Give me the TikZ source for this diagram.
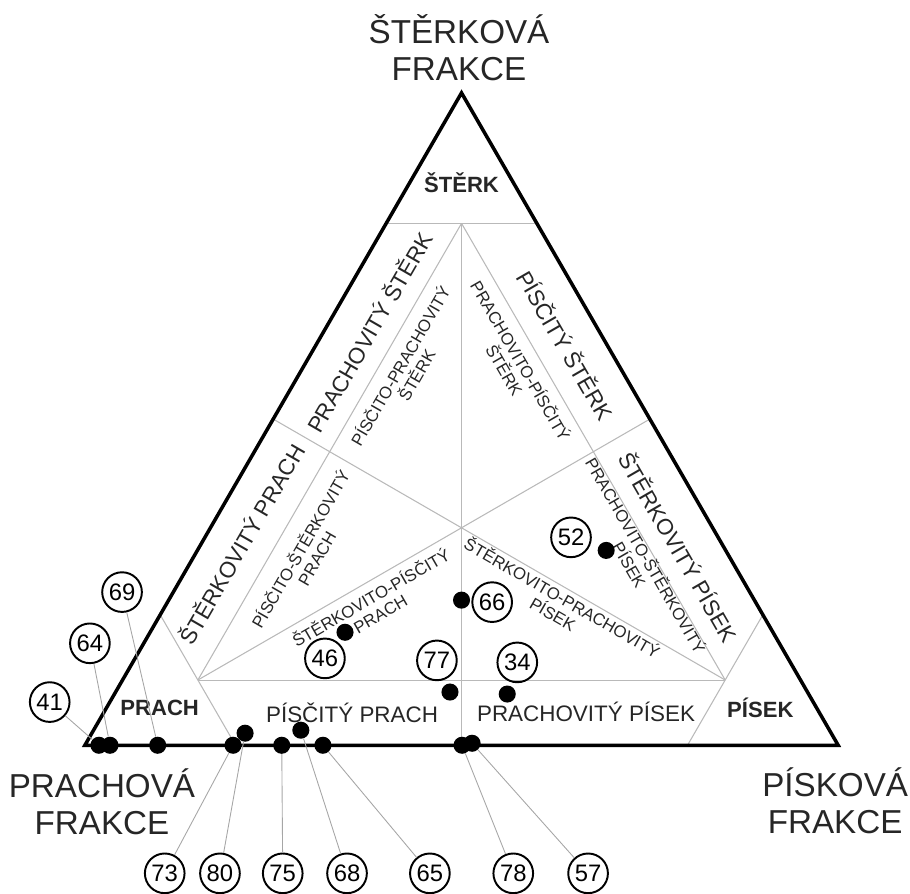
\documentclass[tikz,border=0pt]{standalone}
\usepackage{fontspec}
\setmainfont{Liberation Sans}
\usepackage{tikz}

\begin{document}
\begin{tikzpicture}[
  region/.style={font=\fontsize{12.7}{14}\selectfont, text=black!85},
  small/.style={font=\fontsize{9.5}{10.6}\selectfont, text=black!85, align=center},
  corner/.style={font=\fontsize{12.5}{14}\selectfont\bfseries, text=black!85},
  fraction/.style={font=\fontsize{18.8}{21}\selectfont, text=black!85, align=center},
  num/.style={draw, circle, line width=1.1pt, inner sep=0pt, minimum size=0.79cm, font=\fontsize{13.5}{14}\selectfont},
  dot/.style={circle, fill=black, inner sep=0pt, minimum size=0.34cm},
  lead/.style={gray!70, line width=0.5pt},
  split/.style={gray!55, line width=0.6pt}
]
\useasboundingbox (-1.69,-2.95) rectangle (16.43,14.84);

\coordinate (A) at (0,0);
\coordinate (B) at (15,0);
\coordinate (C) at (7.5,12.99);
\coordinate (T) at (7.5,10.392);
\coordinate (L) at (2.25,1.299);
\coordinate (R) at (12.75,1.299);
\coordinate (M) at (7.5,4.33);

\draw[split] (6,10.392) -- (9,10.392);
\draw[split] (T) -- (L);
\draw[split] (T) -- (R);
\draw[split] (T) -- (7.5,0);
\draw[split] (L) -- (R);
\draw[split] (M) -- (L);
\draw[split] (M) -- (R);
\draw[split] (3.75,6.495) -- (M) -- (11.25,6.495);
\draw[split] (1.5,2.598) -- (3,0);
\draw[split] (13.5,2.598) -- (12,0);

\draw[line width=2pt, line join=miter] (A) -- (B) -- (C) -- cycle;

\node[fraction] (gravel) at (7.45,13.9) {ŠTĚRKOVÁ\\FRAKCE};
\node[fraction] (silt) at (0.34,-1.12) {PRACHOVÁ\\FRAKCE};
\node[fraction] (sand) at (14.94,-1.10) {PÍSKOVÁ\\FRAKCE};

\node[corner] (sterk) at (7.5,11.2) {ŠTĚRK};
\node[corner] (prach) at (1.49,0.74) {PRACH};
\node[corner] (pisek) at (13.45,0.74) {PÍSEK};

\node[region, rotate=60] (prsterk) at (5.65,8.23) {PRACHOVITÝ ŠTĚRK};
\node[region, rotate=-60] (pisterk) at (9.58,7.97) {PÍSČITÝ ŠTĚRK};
\node[region, rotate=60] (stprach) at (3.11,4.02) {ŠTĚRKOVITÝ PRACH};
\node[region, rotate=-60] (stpisek) at (11.83,3.96) {ŠTĚRKOVITÝ PÍSEK};
\node[region] (piprach) at (5.32,0.64) {PÍSČITÝ PRACH};
\node[region] (prpisek) at (9.98,0.66) {PRACHOVITÝ PÍSEK};

\node[small, rotate=60] (piprsterk) at (6.43,7.47) {PÍSČITO-PRACHOVITÝ\\ŠTĚRK};
\node[small, rotate=-60] (prpisterk) at (8.53,7.57) {PRACHOVITO-PÍSČITÝ\\ŠTĚRK};
\node[small, rotate=60] (pistprach) at (4.44,3.82) {PÍSČITO-ŠTĚRKOVITÝ\\PRACH};
\node[small, rotate=-60] (prstpisek) at (11.02,3.69) {PRACHOVITO-ŠTĚRKOVITÝ\\PÍSEK};
\node[small, rotate=30] (stpiprach) at (5.78,2.79) {ŠTĚRKOVITO-PÍSČITÝ\\PRACH};
\node[small, rotate=-30] (stprpisek) at (9.42,2.79) {ŠTĚRKOVITO-PRACHOVITÝ\\PÍSEK};

\node[dot] (d41) at (0.28,0) {};
\node[dot] (d64) at (0.50,0) {};
\node[dot] (d69) at (1.45,0) {};
\node[dot] (d73) at (2.95,0) {};
\node[dot] (d80) at (3.19,0.24) {};
\node[dot] (d75) at (3.92,0) {};
\node[dot] (d68) at (4.30,0.30) {};
\node[dot] (d65) at (4.74,0) {};
\node[dot] (d78) at (7.51,0) {};
\node[dot] (d57) at (7.71,0.04) {};
\node[dot] (d46) at (5.18,2.25) {};
\node[dot] (d77) at (7.27,1.06) {};
\node[dot] (d34) at (8.41,1.02) {};
\node[dot] (d66) at (7.5,2.89) {};
\node[dot] (d52) at (10.38,3.88) {};

\node[num] (n41) at (-0.70,0.86) {41};
\node[num] (n64) at (0.10,2.03) {64};
\node[num] (n69) at (0.74,3.05) {69};
\node[num] (n73) at (1.59,-2.55) {73};
\node[num] (n80) at (2.69,-2.55) {80};
\node[num] (n75) at (3.94,-2.55) {75};
\node[num] (n68) at (5.22,-2.55) {68};
\node[num] (n65) at (6.87,-2.55) {65};
\node[num] (n78) at (8.53,-2.55) {78};
\node[num] (n57) at (10.02,-2.55) {57};
\node[num] (n46) at (4.78,1.73) {46};
\node[num] (n77) at (7.01,1.69) {77};
\node[num] (n34) at (8.61,1.65) {34};
\node[num] (n66) at (8.11,2.85) {66};
\node[num] (n52) at (9.68,4.14) {52};

\draw[lead] (n41) -- (d41);
\draw[lead] (n64) -- (d64);
\draw[lead] (n69) -- (d69);
\draw[lead] (n73) -- (d73);
\draw[lead] (n80) -- (d80);
\draw[lead] (n75) -- (d75);
\draw[lead] (n68) -- (d68);
\draw[lead] (n65) -- (d65);
\draw[lead] (n78) -- (d78);
\draw[lead] (n57) -- (d57);
\end{tikzpicture}
\end{document}
